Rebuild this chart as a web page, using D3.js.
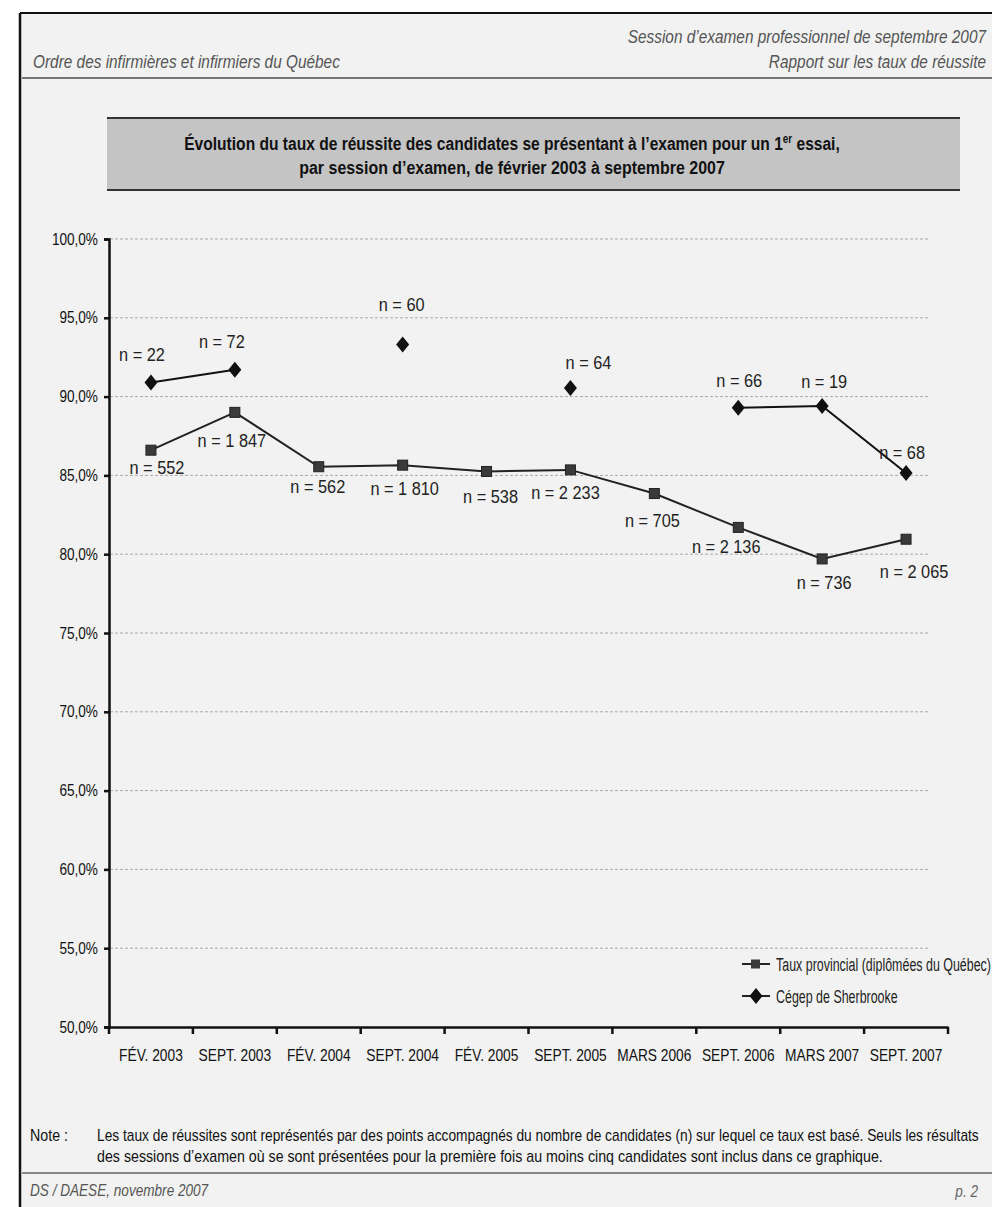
<!DOCTYPE html>
<html><head><meta charset="utf-8">
<script src="https://cdn.jsdelivr.net/npm/d3@7"></script>
<style>
html,body{margin:0;padding:0;background:#fff;}
svg{display:block;}
</style></head>
<body>
<svg id="chart" width="992" height="1207"></svg>
<script>
const categories = ["FÉV. 2003","SEPT. 2003","FÉV. 2004","SEPT. 2004","FÉV. 2005","SEPT. 2005","MARS 2006","SEPT. 2006","MARS 2007","SEPT. 2007"];
const provincial = [86.6, 89.0, 85.55, 85.65, 85.25, 85.35, 83.85, 81.7, 79.7, 80.95];
const provincialN = ["552","1 847","562","1 810","538","2 233","705","2 136","736","2 065"];
const sherbrooke = [90.9, 91.7, null, 93.3, null, 90.55, null, 89.3, 89.4, 85.15];
const sherbrookeN = ["22","72",null,"60",null,"64",null,"66","19","68"];
const yTicks = [50,55,60,65,70,75,80,85,90,95,100];
const seriesNames = ["Taux provincial (diplômées du Québec)","Cégep de Sherbrooke"];

// label placement (layout only)
const provOff = [[6,17],[-3,28],[-1,20],[2,23],[4,25],[-5,22],[-2,27],[-12,19],[2,23],[8,32]];
const sherOff = [[-9,-28],[-13,-28],null,[-1,-40],null,[18,-26],null,[1,-27],[2,-25],[-4,-21]];

const svg = d3.select("#chart");
const FN = '"Liberation Sans Narrow","Arial Narrow","Liberation Sans",Arial,sans-serif';

// condensed text helper
function txt(parent, x, y, s, o) {
  o = o || {};
  const t = parent.append("text")
    .attr("transform", `translate(${x},${y}) scale(${o.sx || 0.85},1)`)
    .attr("font-family", FN)
    .attr("font-size", o.size || 16)
    .attr("fill", o.fill || "#111")
    .attr("text-anchor", o.anchor || "start");
  if (o.italic) t.attr("font-style", "italic");
  if (o.bold) t.attr("font-weight", "bold");
  if (o.dy) t.attr("dy", o.dy);
  if (s != null) t.text(s);
  return t;
}

// page background & frame
svg.append("rect").attr("x",20).attr("y",13).attr("width",972).attr("height",1194).attr("fill","#f2f2f2");
svg.append("line").attr("x1",20).attr("x2",992).attr("y1",13).attr("y2",13).attr("stroke","#111").attr("stroke-width",2);
svg.append("line").attr("x1",20).attr("x2",20).attr("y1",13).attr("y2",1207).attr("stroke","#111").attr("stroke-width",2.5);

// header
const hO = {italic:true, fill:"#555", size:18, sx:0.855};
txt(svg, 986, 43, "Session d’examen professionnel de septembre 2007", Object.assign({anchor:"end"}, hO));
txt(svg, 986, 68, "Rapport sur les taux de réussite", Object.assign({anchor:"end"}, hO));
txt(svg, 33, 68, "Ordre des infirmières et infirmiers du Québec", hO);
svg.append("line").attr("x1",22).attr("x2",992).attr("y1",78).attr("y2",78).attr("stroke","#777").attr("stroke-width",2);

// title box
svg.append("rect").attr("x",107).attr("y",118).attr("width",853).attr("height",72).attr("fill","#c4c4c4");
svg.append("line").attr("x1",107).attr("x2",960).attr("y1",118).attr("y2",118).attr("stroke","#333").attr("stroke-width",2);
svg.append("line").attr("x1",107).attr("x2",960).attr("y1",190).attr("y2",190).attr("stroke","#333").attr("stroke-width",2);
const t1 = txt(svg, 512, 150, null, {anchor:"middle", bold:true, size:19, sx:0.82});
t1.append("tspan").text("Évolution du taux de réussite des candidates se présentant à l’examen pour un 1");
t1.append("tspan").attr("dy",-7).attr("font-size",12).text("er");
t1.append("tspan").attr("dy",7).text(" essai,");
txt(svg, 512, 174, "par session d’examen, de février 2003 à septembre 2007", {anchor:"middle", bold:true, size:19, sx:0.84});

// scales
const x = d3.scaleBand().domain(categories).range([109,948]);
const y = d3.scaleLinear().domain([50,100]).range([1027,239]);
const cx = d => x(d) + x.bandwidth()/2;

// gridlines
svg.append("g").selectAll("line").data(yTicks.filter(v=>v>50)).join("line")
  .attr("x1",110).attr("x2",930).attr("y1",d=>y(d)).attr("y2",d=>y(d))
  .attr("stroke","#aaa").attr("stroke-width",1).attr("stroke-dasharray","3,2");

// y axis
const yAxis = svg.append("g").attr("transform","translate(109,0)")
  .call(d3.axisLeft(y).tickValues(yTicks).tickSize(5).tickFormat(d=>d3.format(".1f")(d).replace(".",",")+"%"));
yAxis.select(".domain").attr("stroke","#111").attr("stroke-width",2.5);
yAxis.selectAll(".tick line").attr("stroke","#111").attr("stroke-width",2.5);
yAxis.selectAll("text").attr("font-family",FN).attr("font-size",16).attr("fill","#111")
  .attr("x",-13).attr("transform","scale(0.85,1)");

// x axis
const xAxis = svg.append("g").attr("transform","translate(0,1027)")
  .call(d3.axisBottom(x).tickSize(0).tickSizeOuter(0));
xAxis.select(".domain").attr("stroke","#111").attr("stroke-width",2.5);
xAxis.selectAll("text").attr("font-family",FN).attr("font-size",16).attr("fill","#111")
  .attr("dy",0).attr("y",34).attr("transform","scale(0.86,1)");
const edges = categories.map(c=>x(c)).concat([x.range()[1]]);
svg.append("g").selectAll("line").data(edges).join("line")
  .attr("x1",d=>d).attr("x2",d=>d)
  .attr("y1",1027).attr("y2",1034).attr("stroke","#111").attr("stroke-width",2.5);

// lines
const line = d3.line().defined(d=>d.v!=null).x(d=>cx(d.c)).y(d=>y(d.v));
const provData = categories.map((c,i)=>({c, v:provincial[i], n:provincialN[i], o:provOff[i]}));
const sherData = categories.map((c,i)=>({c, v:sherbrooke[i], n:sherbrookeN[i], o:sherOff[i]}));
svg.append("path").datum(provData).attr("d",line).attr("fill","none").attr("stroke","#222").attr("stroke-width",2);
svg.append("path").datum(sherData).attr("d",line).attr("fill","none").attr("stroke","#111").attr("stroke-width",2);

// markers
const diamondPath = "M0,-8L6.5,0L0,8L-6.5,0Z";
svg.append("g").selectAll("rect").data(provData).join("rect")
  .attr("x",d=>cx(d.c)-5).attr("y",d=>y(d.v)-5).attr("width",10).attr("height",10)
  .attr("fill","#3a3a3a").attr("stroke","#222").attr("stroke-width",1);
svg.append("g").selectAll("path").data(sherData.filter(d=>d.v!=null)).join("path")
  .attr("d",diamondPath).attr("transform",d=>`translate(${cx(d.c)},${y(d.v)})`).attr("fill","#111");

// labels
const lab = svg.append("g");
provData.forEach(d => txt(lab, cx(d.c)+d.o[0], y(d.v)+d.o[1], "n = "+d.n, {anchor:"middle", size:19, sx:0.86, fill:"#222", dy:"0.35em"}));
sherData.filter(d=>d.v!=null).forEach(d => txt(lab, cx(d.c)+d.o[0], y(d.v)+d.o[1], "n = "+d.n, {anchor:"middle", size:19, sx:0.86, fill:"#222", dy:"0.35em"}));

// legend
const leg = svg.append("g");
const legY = [964, 996];
leg.selectAll("line").data(seriesNames).join("line")
  .attr("x1",742).attr("x2",770).attr("y1",(d,i)=>legY[i]).attr("y2",(d,i)=>legY[i]).attr("stroke","#222").attr("stroke-width",2);
leg.append("rect").attr("x",751).attr("y",legY[0]-4.5).attr("width",9).attr("height",9).attr("fill","#3a3a3a");
leg.append("path").attr("d",diamondPath).attr("transform",`translate(756,${legY[1]})`).attr("fill","#111");
seriesNames.forEach((s,i)=> txt(leg, 776, legY[i], s, {size:19, sx:0.655, fill:"#222", dy:"0.35em"}));

// note
txt(svg, 30, 1141, "Note :", {size:16, sx:0.89});
txt(svg, 97, 1141, "Les taux de réussites sont représentés par des points accompagnés du nombre de candidates (n) sur lequel ce taux est basé.  Seuls les résultats", {size:16, sx:0.86});
txt(svg, 97, 1162, "des sessions d’examen où se sont présentées pour la première fois au moins cinq candidates sont inclus dans ce graphique.", {size:16, sx:0.89});
svg.append("line").attr("x1",22).attr("x2",992).attr("y1",1173).attr("y2",1173).attr("stroke","#888").attr("stroke-width",2);
txt(svg, 30, 1196, "DS / DAESE, novembre 2007", {italic:true, fill:"#555", size:17, sx:0.8});
txt(svg, 978, 1197, "p. 2", {italic:true, fill:"#666", size:16, sx:0.85, anchor:"end"});
</script>
</body></html>
